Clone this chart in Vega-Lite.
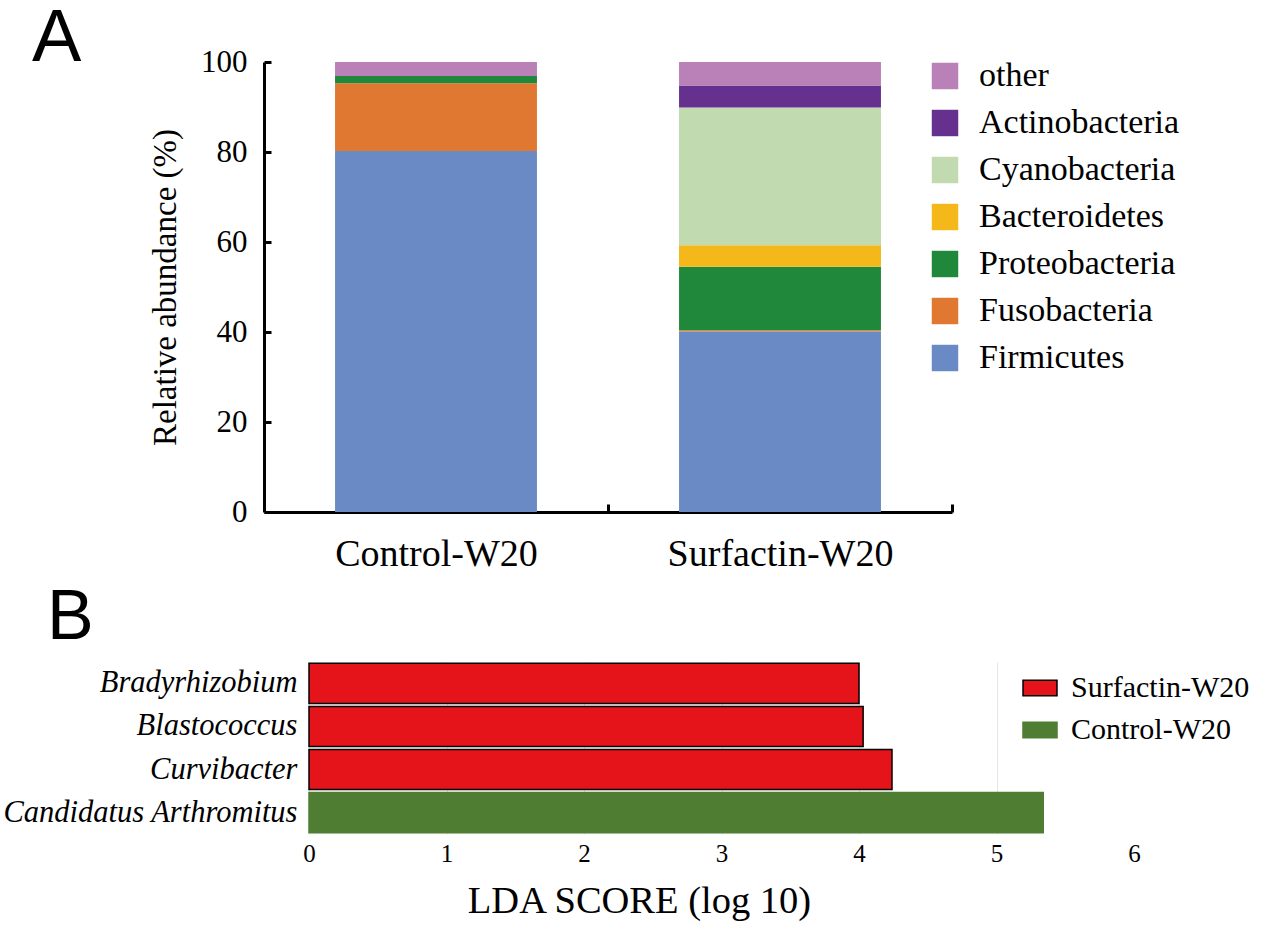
{
  "$schema": "https://vega.github.io/schema/vega-lite/v6.json",
  "background": "white",
  "padding": {"left": 2, "top": 2, "right": 5, "bottom": 2},
  "config": {"view": {"stroke": null}, "font": "Liberation Serif"},
  "columns": 1,
  "align": {"row": "none", "column": "all"},
  "spacing": 10,
  "resolve": {"scale": {"color": "independent", "stroke": "independent"}, "legend": {"color": "independent", "stroke": "independent"}},
  "concat": [
    {
      "title": {"text": "A", "anchor": "start", "frame": "group", "font": "Liberation Sans", "fontSize": 74, "fontWeight": "normal", "color": "black", "dx": -232, "baseline": "alphabetic", "offset": -89},
      "width": 688,
      "height": 450,
      "data": {"values": [
        {"group": "Control-W20", "phylum": "Firmicutes", "value": 80.2, "ord": 1},
        {"group": "Control-W20", "phylum": "Fusobacteria", "value": 15.1, "ord": 2},
        {"group": "Control-W20", "phylum": "Proteobacteria", "value": 1.6, "ord": 3},
        {"group": "Control-W20", "phylum": "other", "value": 3.1, "ord": 7},
        {"group": "Surfactin-W20", "phylum": "Firmicutes", "value": 40.1, "ord": 1},
        {"group": "Surfactin-W20", "phylum": "Fusobacteria", "value": 0.3, "ord": 2},
        {"group": "Surfactin-W20", "phylum": "Proteobacteria", "value": 14.1, "ord": 3},
        {"group": "Surfactin-W20", "phylum": "Bacteroidetes", "value": 4.8, "ord": 4},
        {"group": "Surfactin-W20", "phylum": "Cyanobacteria", "value": 30.6, "ord": 5},
        {"group": "Surfactin-W20", "phylum": "Actinobacteria", "value": 4.9, "ord": 6},
        {"group": "Surfactin-W20", "phylum": "other", "value": 5.2, "ord": 7}
      ]},
      "mark": {"type": "bar"},
      "encoding": {
        "x": {"field": "group", "type": "nominal", "sort": ["Control-W20", "Surfactin-W20"],
          "scale": {"paddingInner": 0.413, "paddingOuter": 0.2065},
          "axis": {"title": null, "labelAngle": 0, "labelFontSize": 38, "labelColor": "black", "labelPadding": 31, "labelLimit": 400,
            "domainColor": "black", "domainWidth": 3, "tickColor": "black", "tickWidth": 3, "tickSize": -8, "tickOffset": 172, "labelOffset": -172}},
        "y": {"field": "value", "type": "quantitative", "stack": "zero", "scale": {"domain": [0, 100]},
          "axis": {"title": "Relative abundance (%)", "titleFontSize": 33, "titleFontWeight": "normal", "titleColor": "black", "titlePadding": 18,
            "labelFontSize": 31, "labelColor": "black", "values": [0, 20, 40, 60, 80, 100], "grid": false,
            "domainWidth": 3, "domainColor": "black", "tickColor": "black", "tickWidth": 3, "tickSize": -7, "labelPadding": 24}},
        "color": {"field": "phylum", "type": "nominal",
          "scale": {"domain": ["other", "Actinobacteria", "Cyanobacteria", "Bacteroidetes", "Proteobacteria", "Fusobacteria", "Firmicutes"],
            "range": ["#BA80B8", "#66318E", "#C2DAAF", "#F4B81B", "#20883B", "#E17832", "#6A8AC5"]},
          "legend": {"orient": "none", "legendX": 664, "legendY": -3, "title": null, "padding": 0, "symbolType": "square", "symbolSize": 700,
            "symbolStrokeWidth": 0, "labelFontSize": 34, "labelFont": "Liberation Serif", "labelColor": "black", "labelOffset": 17, "rowPadding": 13, "labelLimit": 400}},
        "order": {"field": "ord", "type": "quantitative"}
      }
    },
    {
      "title": {"text": "B", "anchor": "start", "frame": "group", "font": "Liberation Sans", "fontSize": 70, "fontWeight": "normal", "color": "black", "dx": -217, "baseline": "alphabetic", "offset": -47},
      "width": 870,
      "height": 172,
      "data": {"values": [
        {"genus": "Bradyrhizobium", "score": 4.0, "grp": "Surfactin-W20"},
        {"genus": "Blastococcus", "score": 4.03, "grp": "Surfactin-W20"},
        {"genus": "Curvibacter", "score": 4.24, "grp": "Surfactin-W20"},
        {"genus": "Candidatus Arthromitus", "score": 5.34, "grp": "Control-W20"}
      ]},
      "mark": {"type": "bar", "strokeWidth": 1.5},
      "encoding": {
        "y": {"field": "genus", "type": "nominal", "sort": ["Bradyrhizobium", "Blastococcus", "Curvibacter", "Candidatus Arthromitus"],
          "scale": {"paddingInner": 0.07, "paddingOuter": 0.03},
          "axis": {"title": null, "labelFontSize": 30.5, "labelFontStyle": "italic", "labelColor": "black", "domain": false, "ticks": false, "tickSize": 0, "labelPadding": -33, "labelLimit": 400}},
        "x": {"field": "score", "type": "quantitative", "scale": {"domain": [0, 6], "range": [45, 870]},
          "axis": {"values": [0, 1, 2, 3, 4, 5, 6], "title": "LDA SCORE (log 10)", "titleFontSize": 38.5, "titleFontWeight": "normal", "titleColor": "black",
            "labelFontSize": 25, "labelColor": "black", "labelFlush": false, "domain": false, "ticks": false, "tickSize": 0, "labelPadding": 7, "grid": true, "gridColor": "#e6e6e6",
            "gridOpacity": {"condition": {"test": "datum.value > 5", "value": 0}, "value": 1},
            "titleX": 375, "titlePadding": 16}},
        "color": {"field": "grp", "type": "nominal", "scale": {"domain": ["Surfactin-W20", "Control-W20"], "range": ["#E5141B", "#4F7E33"]},
          "legend": {"orient": "none", "legendX": 758, "legendY": 8, "title": null, "padding": 0, "symbolType": "M-1,-0.45H1V0.45H-1Z", "symbolSize": 1156,
            "symbolStrokeWidth": 1.5, "labelFontSize": 30, "labelFont": "Liberation Serif", "labelColor": "black", "labelOffset": 13, "rowPadding": 9, "labelLimit": 400}},
        "stroke": {"field": "grp", "type": "nominal", "scale": {"domain": ["Surfactin-W20", "Control-W20"], "range": ["#000000", "#4F7E33"]},
          "legend": {"orient": "none", "legendX": 758, "legendY": 8, "title": null, "padding": 0, "symbolType": "M-1,-0.45H1V0.45H-1Z", "symbolSize": 1156,
            "symbolStrokeWidth": 1.5, "labelFontSize": 30, "labelFont": "Liberation Serif", "labelColor": "black", "labelOffset": 13, "rowPadding": 9, "labelLimit": 400}}
      }
    }
  ]
}
